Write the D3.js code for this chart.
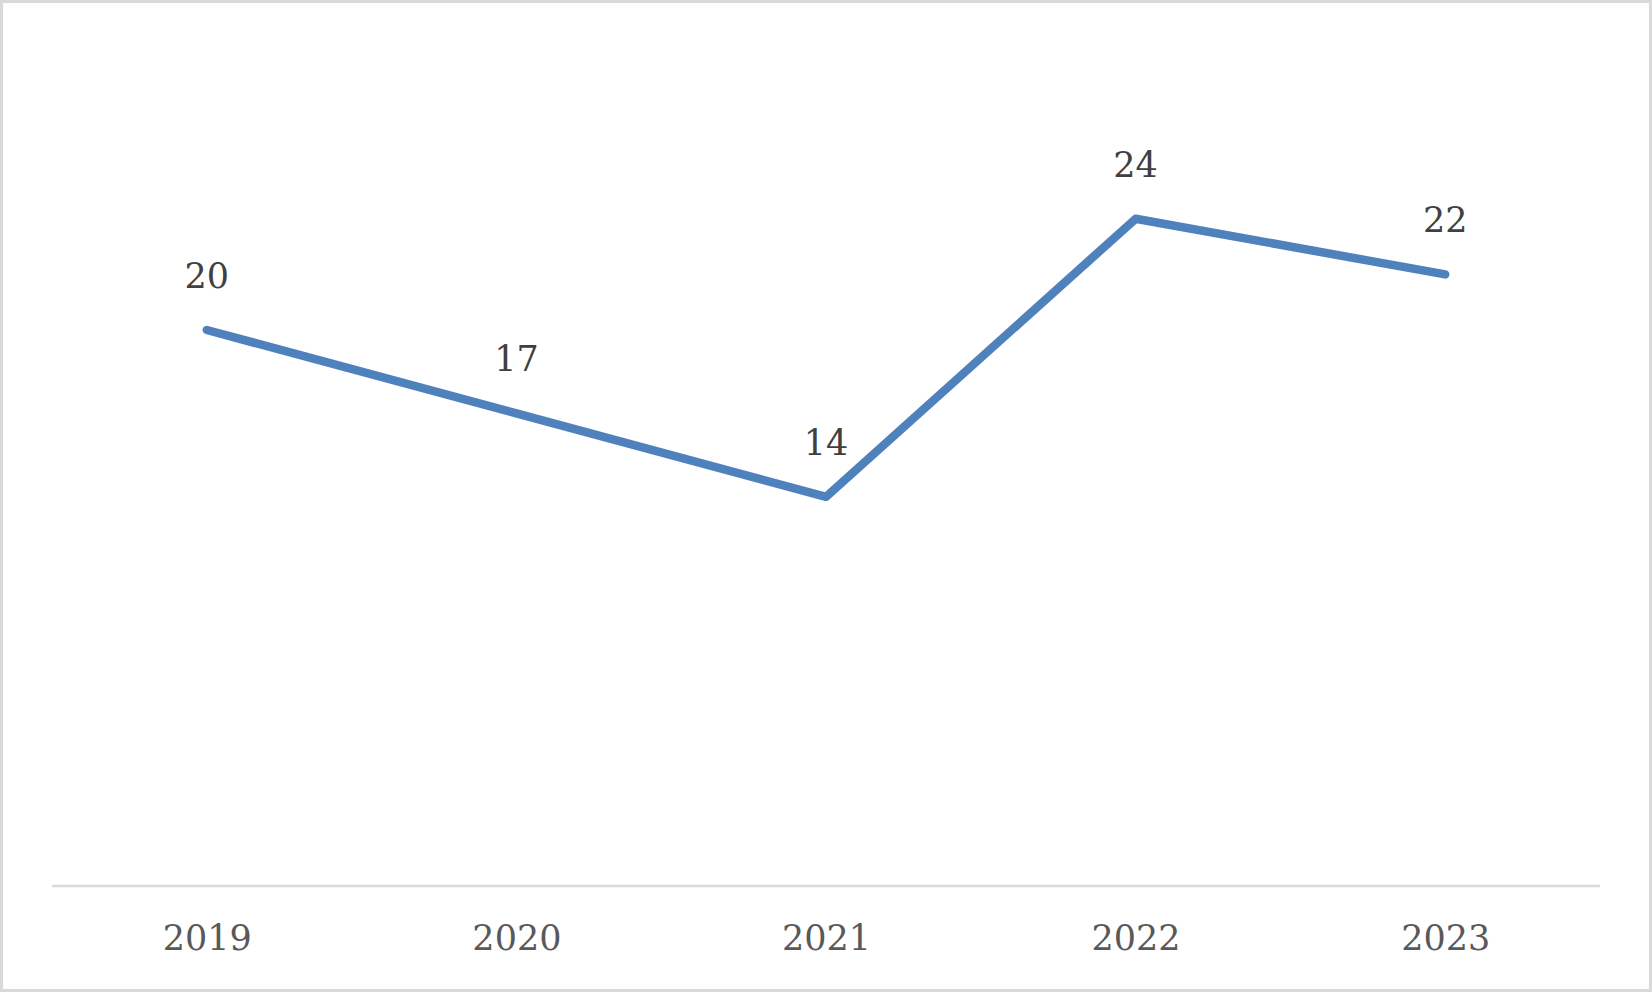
<!DOCTYPE html>
<html><head><meta charset="utf-8">
<script src="https://cdn.jsdelivr.net/npm/d3@7"></script>
<style>html,body{margin:0;padding:0;background:#fff;}svg{display:block;}</style>
</head><body>
<script>
const categories = ["2019", "2020", "2021", "2022", "2023"];
const values = [20, 17, 14, 24, 22];

const W = 1652, H = 992;
const svg = d3.select("body").append("svg").attr("width", W).attr("height", H);
svg.append("rect").attr("x", 1.5).attr("y", 1.5).attr("width", W - 3).attr("height", H - 3)
  .attr("fill", "#fff").attr("stroke", "#d9d9d9").attr("stroke-width", 3);

const x = d3.scalePoint().domain(categories).range([52, 1600]).padding(0.5);
const y = d3.scaleLinear().domain([0, 30]).range([886, 52]);
const font = "'DejaVu Serif', serif";

svg.append("line").attr("x1", 52).attr("x2", 1600).attr("y1", y(0)).attr("y2", y(0))
  .attr("stroke", "#d9d9d9").attr("stroke-width", 2.5);

const xAxis = svg.append("g").attr("transform", `translate(0,${y(0)})`)
  .call(d3.axisBottom(x).tickSize(0).tickPadding(0));
xAxis.select(".domain").remove();
xAxis.selectAll("text").attr("dy", null).attr("y", 64).attr("font-family", font)
  .attr("font-size", 35).attr("fill", "#595959");

const data = categories.map((c, i) => ({c, v: values[i]}));
svg.append("path").datum(data)
  .attr("d", d3.line().x(d => x(d.c)).y(d => y(d.v)))
  .attr("fill", "none").attr("stroke", "#4f81bd").attr("stroke-width", 8.5)
  .attr("stroke-linecap", "round").attr("stroke-linejoin", "round");

svg.selectAll(".lbl").data(data).enter().append("text").attr("class", "lbl")
  .attr("x", d => x(d.c)).attr("y", d => y(d.v) - 42)
  .attr("text-anchor", "middle").attr("font-family", font).attr("font-size", 35)
  .attr("fill", "#404040").text(d => d.v);
</script>
</body></html>
